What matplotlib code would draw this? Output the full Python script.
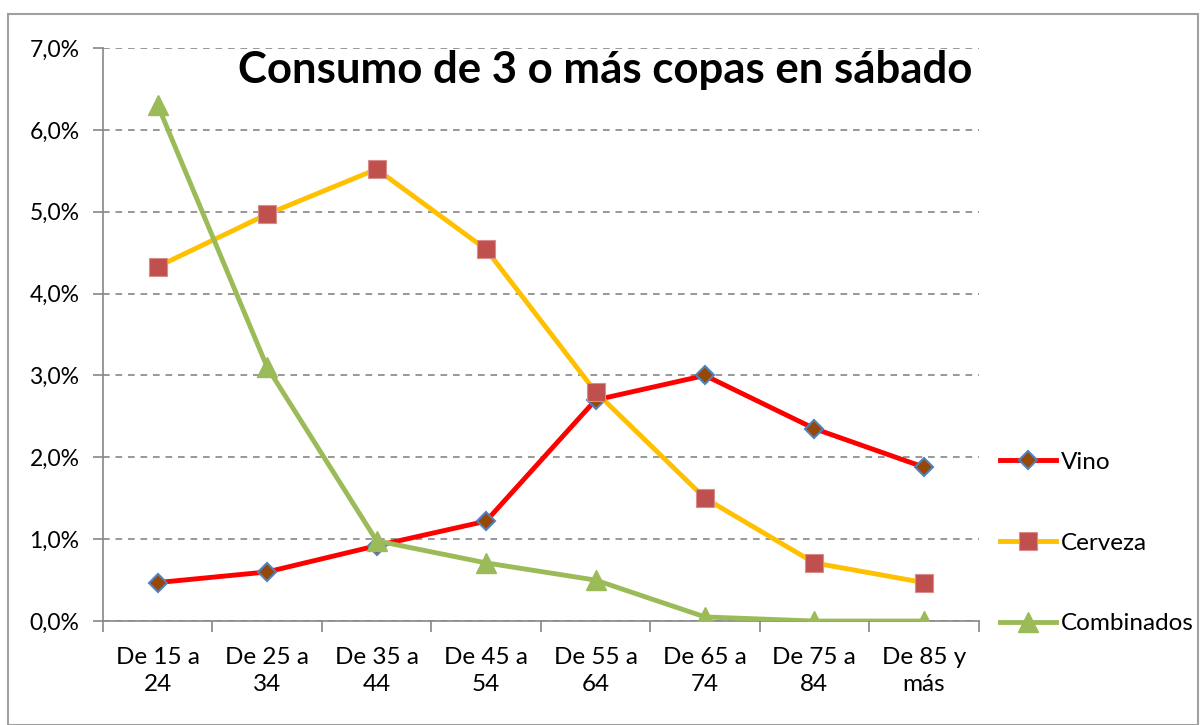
import numpy as np
import matplotlib.pyplot as plt
from matplotlib.patches import Rectangle
from matplotlib.ticker import FuncFormatter

plt.rcParams['font.family'] = ['Lato', 'DejaVu Sans']

grupos = ["De 15 a\n24", "De 25 a\n34", "De 35 a\n44", "De 45 a\n54",
          "De 55 a\n64", "De 65 a\n74", "De 75 a\n84", "De 85 y\nmás"]
vino = [0.47, 0.60, 0.92, 1.22, 2.70, 3.00, 2.35, 1.88]
cerveza = [4.33, 4.97, 5.52, 4.54, 2.80, 1.50, 0.71, 0.47]
combinados = [6.30, 3.10, 0.98, 0.71, 0.50, 0.05, 0.00, 0.00]

fig = plt.figure(figsize=(12.01, 7.25), dpi=100)
ax = fig.add_axes([0.0858, 0.1434, 0.729, 0.7904])

x = np.arange(len(grupos))
ax.plot(x, vino, color='#FF0000', lw=3.5, marker='D', ms=9,
        mfc='#974706', mec='#4F81BD', mew=1.5, label='Vino', zorder=3)
ax.plot(x, cerveza, color='#FFC000', lw=3.5, marker='s', ms=13,
        mfc='#C0504D', mec='#D98C8A', mew=0.8, label='Cerveza', zorder=3)
ax.plot(x, combinados, color='#9BBB59', lw=3.5, marker='^', ms=14,
        mfc='#9BBB59', mec='#9BBB59', label='Combinados', zorder=3)

ax.set_xlim(-0.5, 7.5)
ax.set_ylim(0, 7)
ax.set_yticks(np.arange(0, 7.1, 1))
ax.yaxis.set_major_formatter(FuncFormatter(lambda v, p: f"{v:.1f}%".replace('.', ',')))
ax.set_xticks(x)
ax.set_xticklabels(grupos, linespacing=1.3)
ax.set_xticks(np.arange(-0.5, 8, 1), minor=True)
ax.tick_params(axis='x', which='major', length=0, pad=19, labelsize=17.5)
ax.tick_params(axis='x', which='minor', length=8, color='#868686', width=1.2)
ax.tick_params(axis='y', length=7, color='#868686', width=1.2, labelsize=16.5, pad=10)
ax.grid(axis='y', color='#868686', ls=(0, (4, 3.5)), lw=1.2)
ax.set_axisbelow(True)
for s in ['top', 'right']:
    ax.spines[s].set_visible(False)
for s in ['left', 'bottom']:
    ax.spines[s].set_color('#868686')
    ax.spines[s].set_linewidth(1.2)

fig.text(0.504, 0.903, "Consumo de 3 o más copas en sábado", ha='center', va='center',
         fontsize=31.5, fontweight='bold')

fig.legend(loc='center left', bbox_to_anchor=(1000 / 1201, 1 - 543 / 725), frameon=False,
           fontsize=17.5, handlelength=2.3, labelspacing=2.45, handletextpad=0.2,
           borderpad=0, borderaxespad=0)

fig.patches.append(Rectangle((8 / 1201, 0), 1190 / 1201, 1 - 14 / 725, transform=fig.transFigure,
                             fill=False, ec='#A0A0A0', lw=1.5))

fig.savefig('out.png', dpi=100)
